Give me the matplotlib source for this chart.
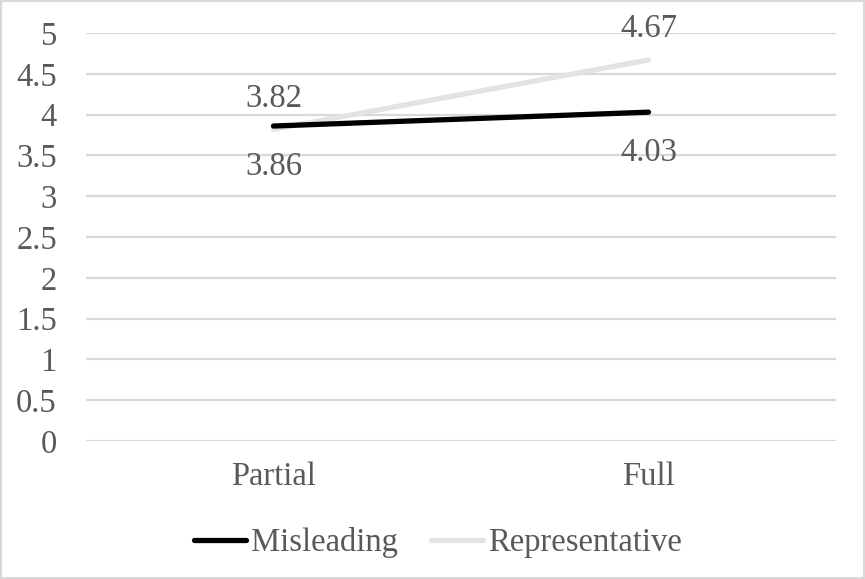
import matplotlib
matplotlib.use("Agg")
import matplotlib.pyplot as plt
from matplotlib.patches import Rectangle

categories = ["Partial", "Full"]
misleading = [3.86, 4.03]
representative = [3.82, 4.67]
y_ticks = [0, 0.5, 1, 1.5, 2, 2.5, 3, 3.5, 4, 4.5, 5]
y_tick_labels = ["0", "0.5", "1", "1.5", "2", "2.5", "3", "3.5", "4", "4.5", "5"]

plt.rcParams["font.family"] = ["Liberation Serif", "DejaVu Serif"]
text_color = "#595959"
grid_color = "#d9d9d9"
fs = 23.5

fig = plt.figure(figsize=(8.65, 5.79), dpi=100)
ax = fig.add_axes([0.0994, 0.2383, 0.8671, 0.7047])

x = list(range(len(categories)))
ax.plot(x, misleading, color="black", lw=3.8, solid_capstyle="round",
        label="Misleading", zorder=3)
ax.plot(x, representative, color="#e3e3e3", lw=3.8, solid_capstyle="round",
        label="Representative", zorder=2)

# data labels: representative above, misleading below
for xi, v in zip(x, representative):
    ax.annotate(f"{v:.2f}", (xi, v), xytext=(0, 31), textcoords="offset pixels",
                ha="center", va="center", fontsize=fs, color=text_color)
for xi, v in zip(x, misleading):
    ax.annotate(f"{v:.2f}", (xi, v), xytext=(0, -41), textcoords="offset pixels",
                ha="center", va="center", fontsize=fs, color=text_color)

ax.set_xlim(-0.5, 1.5)
ax.set_ylim(0, 5)
ax.set_yticks(y_ticks)
ax.set_yticklabels(y_tick_labels)
ax.set_xticks(x)
ax.set_xticklabels(categories)
ax.tick_params(axis="y", length=0, pad=21, labelsize=fs, labelcolor=text_color)
ax.tick_params(axis="x", length=0, pad=15, labelsize=fs, labelcolor=text_color)
ax.yaxis.grid(True, color=grid_color, lw=1.6)
ax.set_axisbelow(True)
for s in ax.spines.values():
    s.set_visible(False)

leg = fig.legend(loc="center", bbox_to_anchor=(0.506, 1 - 543 / 579), ncol=2,
                 frameon=False, fontsize=fs, handlelength=1.6,
                 handletextpad=0.15, columnspacing=1.0)
for t in leg.get_texts():
    t.set_color(text_color)

fig.patches.append(Rectangle((0.001, 0.001), 0.998, 0.997, transform=fig.transFigure,
                             fill=False, edgecolor=grid_color, lw=1.5))

fig.savefig("out.png", dpi=100)
